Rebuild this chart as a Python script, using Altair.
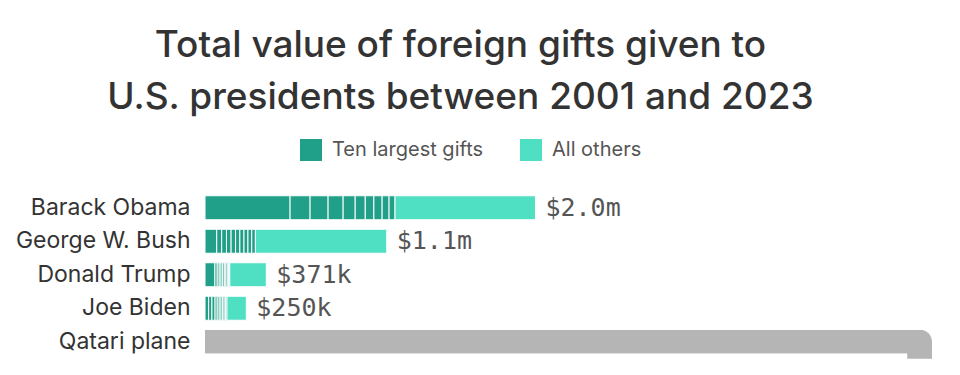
import altair as alt
import pandas as pd

# ---- data (values in $ millions) ----
presidents = ["Barack Obama", "George W. Bush", "Donald Trump", "Joe Biden"]
obama_top10 = [0.515, 0.121, 0.109, 0.091, 0.073, 0.061, 0.052, 0.050, 0.042, 0.036]
bush_top10 = [0.071, 0.030, 0.029, 0.028, 0.027, 0.026, 0.025, 0.024, 0.023, 0.022]
trump_top10 = [0.060, 0.014, 0.012, 0.011, 0.010, 0.010, 0.009, 0.009, 0.008, 0.007]
biden_top10 = [0.022, 0.020, 0.019, 0.013, 0.012, 0.011, 0.010, 0.009, 0.009, 0.008]
all_others = [0.85, 0.795, 0.221, 0.117]
totals = [2.0, 1.1, 0.371, 0.250]
total_labels = ["$2.0m", "$1.1m", "$371k", "$250k"]
groups = ["Ten largest gifts", "All others"]

plane_name = "Qatari plane"
plane_shown = [4.4]       # visible length of the (wrapping) plane bar
plane_turn = [4.25]       # where the bar turns downward

row_order = presidents + [plane_name]

DARK = "#21a089"
LIGHT = "#4fdfc2"
GRAY = "#b5b5b5"
FONT = "Inter"

rows = []
for name, gifts, other in zip(presidents, [obama_top10, bush_top10, trump_top10, biden_top10], all_others):
    for i, g in enumerate(gifts):
        rows.append({"name": name, "group": groups[0], "rank": i, "value": g})
    rows.append({"name": name, "group": groups[1], "rank": 10, "value": other})
df = pd.DataFrame(rows)

df_tot = pd.DataFrame({"name": presidents, "total": totals, "label": total_labels})
df_plane = pd.DataFrame({"name": [plane_name], "end": plane_shown, "turn": plane_turn})

xscale = alt.Scale(domain=[0, 4.4], nice=False, zero=True)
yscale = alt.Scale(domain=row_order, paddingInner=0.2836, paddingOuter=0.1418)

yaxis = alt.Axis(
    title=None, ticks=False, domain=False, labelFontSize=23, labelFont=FONT,
    labelColor="#333333", labelPadding=15, labelLimit=300,
)

bars = alt.Chart(df).mark_bar(stroke="white", strokeWidth=1).encode(
    y=alt.Y("name:N", sort=row_order, scale=yscale, axis=yaxis),
    x=alt.X("value:Q", scale=xscale, axis=None, stack="zero"),
    color=alt.Color(
        "group:N",
        scale=alt.Scale(domain=groups, range=[DARK, LIGHT]),
        legend=alt.Legend(
            title=None, orient="none", direction="horizontal", legendX=95, legendY=-52,
            symbolType="square", symbolSize=484, symbolStrokeWidth=0, symbolOpacity=1,
            labelFontSize=20, labelFont=FONT, labelColor="#555555", labelOffset=10,
            columnPadding=36,
        ),
        sort=groups,
    ),
    order=alt.Order("rank:Q"),
)

labels = alt.Chart(df_tot).mark_text(
    align="left", baseline="middle", dx=10, font="DejaVu Sans Mono", fontSize=25, color="#555555"
).encode(
    y=alt.Y("name:N", sort=row_order, scale=yscale, axis=yaxis),
    x=alt.X("total:Q", scale=xscale, axis=None),
    text="label:N",
)

plane = alt.Chart(df_plane).mark_bar(color=GRAY, cornerRadiusTopRight=22).encode(
    y=alt.Y("name:N", sort=row_order, scale=yscale, axis=yaxis),
    x=alt.X("end:Q", scale=xscale, axis=None),
)

plane_turn_piece = alt.Chart(df_plane).mark_bar(color=GRAY, height=10, yOffset=12).encode(
    y=alt.Y("name:N", sort=row_order, scale=yscale, axis=yaxis),
    x=alt.X("turn:Q", scale=xscale, axis=None),
    x2="end:Q",
)

chart = alt.layer(plane_turn_piece, plane, bars, labels).properties(
    width=727,
    height=167.5,
    autosize=alt.AutoSizeParams(type="none"),
    padding={"left": 197, "top": 183, "right": 20, "bottom": 8},
    title=alt.TitleParams(
        text=["Total value of foreign gifts given to", "U.S. presidents between 2001 and 2023"],
        fontSize=37, font=FONT, fontWeight=500, color="#333333",
        anchor="middle", frame="group", dx=-108, offset=22, lineHeight=52,
    ),
).configure_view(stroke=None)

chart.save("out.html", embed_options={"renderer": "svg", "actions": False})
